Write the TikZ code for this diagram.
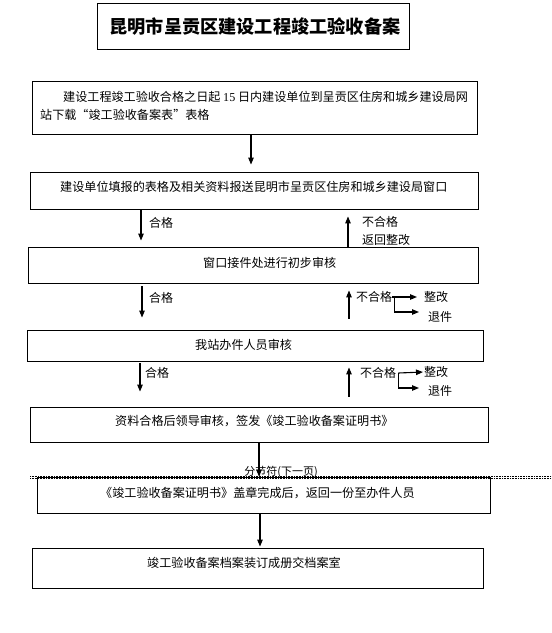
\documentclass[tikz,border=0pt]{standalone}
\usepackage{fontspec}
\setmainfont{Liberation Serif}
\newfontfamily\cjk{Noto Sans CJK SC}
\usetikzlibrary{arrows.meta}
\begin{document}
\begin{tikzpicture}[x=1pt,y=-1pt,
  box/.style={draw,line width=0.9pt,minimum width=#1,inner sep=0pt},
  txt/.style={anchor=west,inner sep=0pt,font=\cjk\fontsize{12.1}{14}\selectfont},
  lbl/.style={anchor=west,inner sep=0pt,font=\cjk\fontsize{12}{14}\selectfont},
  arr/.style={line width=1.1pt,-{Triangle[length=7pt,width=5.5pt]}}]
\useasboundingbox (0,0) rectangle (552,633);
% title
\node[box=312pt,minimum height=46pt] (title) at (253,26) {};
\node[inner sep=0pt,font=\cjk\bfseries\fontsize{18.2}{20}\selectfont] (tt) at (255,27) {昆明市呈贡区建设工程竣工验收备案};
% boxes
\node[box=445pt,minimum height=53pt] (b1) at (254.5,107.5) {};
\node[box=448pt,minimum height=37pt] (b2) at (254,190.5) {};
\node[box=450pt,minimum height=36pt] (b3) at (253,265) {};
\node[box=456pt,minimum height=31pt] (b4) at (255,345.5) {};
\node[box=458pt,minimum height=35pt] (b5) at (259,424.5) {};
\node[box=453pt,minimum height=36pt] (b6) at (263.5,495) {};
\node[box=451pt,minimum height=40pt] (b7) at (257.5,568) {};
% texts
\node[txt] (t1a) at (63,97) {建设工程竣工验收合格之日起 {\rmfamily 15} 日内建设单位到呈贡区住房和城乡建设局网};
\node[txt] (t1b) at (40,115) {站下载“竣工验收备案表”表格};
\node[txt] (t2) at (60,187) {建设单位填报的表格及相关资料报送昆明市呈贡区住房和城乡建设局窗口};
\node[txt] (t3) at (203,263) {窗口接件处进行初步审核};
\node[txt] (t4) at (195,345) {我站办件人员审核};
\node[txt] (t5) at (115,421) {资料合格后领导审核，签发《竣工验收备案证明书》};
\node[txt] (t6) at (100,493) {《竣工验收备案证明书》盖章完成后，返回一份至办件人员};
\node[txt] (t7) at (147,563) {竣工验收备案档案装订成册交档案室};
% labels
\node[lbl] (hg1) at (149,223) {合格};
\node[lbl] (ng1) at (362,222) {不合格};
\node[lbl] (fh1) at (362,240) {返回整改};
\node[lbl] (hg2) at (149,298) {合格};
\node[lbl] (ng2) at (356,297) {不合格};
\node[lbl] (zg2) at (424,297) {整改};
\node[lbl] (tj2) at (428,317) {退件};
\node[lbl] (hg3) at (145,373) {合格};
\node[lbl] (ng3) at (360,373) {不合格};
\node[lbl] (zg3) at (424,372) {整改};
\node[lbl] (tj3) at (428,391) {退件};
% x positions
\coordinate (x1) at (251,0);
\coordinate (xd2) at (141,0);
\coordinate (xu2) at (348,0);
\coordinate (xd3) at (142,0);
\coordinate (xu3) at (349,0);
\coordinate (xd4) at (140,0);
\coordinate (xu4) at (349,0);
\coordinate (x5) at (259,0);
\coordinate (x6) at (260,0);
% arrows
\draw[arr,shorten >=7pt] (b1.south -| x1) -- (b2.north -| x1);
\draw[arr,shorten >=6pt] (b2.south -| xd2) -- (b3.north -| xd2);
\draw[arr,shorten >=7pt] (b3.north -| xu2) -- (b2.south -| xu2);
\draw[arr,shorten <=3pt,shorten >=12pt] (b3.south -| xd3) -- (b4.north -| xd3);
\draw[arr,shorten <=11pt,shorten >=7pt] (b4.north -| xu3) -- (b3.south -| xu3);
\draw[arr,shorten <=2pt,shorten >=15pt] (b4.south -| xd4) -- (b5.north -| xd4);
\draw[arr,shorten <=10pt,shorten >=6pt] (b5.north -| xu4) -- (b4.south -| xu4);
\draw[arr] (b5.south -| x5) -- (b6.north -| x5);
\draw[arr,shorten >=1pt] (b6.south -| x6) -- (b7.north -| x6);
% elbows
\draw[arr,shorten >=7pt] (ng2.east) -- (zg2.west);
\draw[arr,shorten >=9pt] ([xshift=2pt]ng2.east) |- ([yshift=5pt]tj2.west);
\draw[arr,shorten >=1pt] ([xshift=2pt]ng3.east) -- (zg3.west);
\draw[arr,shorten >=9pt] ([xshift=2pt]ng3.east) |- ([yshift=3pt]tj3.west);
% section break
\coordinate (sbl) at (30,476);
\coordinate (sbr) at (552,476);
\draw[densely dotted,line width=0.6pt] (sbl) -- (sbr);
\draw[densely dotted,line width=0.6pt] ([yshift=-2pt]sbl) -- ([yshift=-2pt]sbr);
\node[inner sep=0pt,font=\cjk\fontsize{11}{13}\selectfont] (sb) at (281,472) {分节符(下一页)};
\end{tikzpicture}
\end{document}
